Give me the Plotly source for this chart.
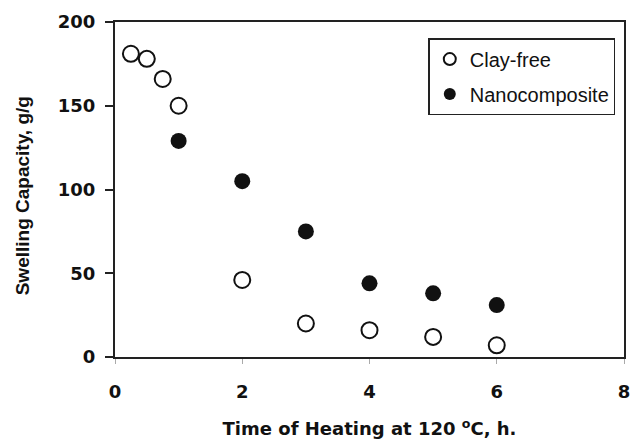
import plotly.graph_objects as go

clay_x = [0.25, 0.5, 0.75, 1, 2, 3, 4, 5, 6]
clay_y = [181, 178, 166, 150, 46, 20, 16, 12, 7]
nano_x = [1, 2, 3, 4, 5, 6]
nano_y = [129, 105, 75, 44, 38, 31]

fig = go.Figure()
fig.add_trace(go.Scatter(x=clay_x, y=clay_y, mode="markers", name="Clay-free", legendgroup="a",
                         marker=dict(symbol="circle-open", size=16, color="#111",
                                     line=dict(width=2, color="#111"))))
fig.add_trace(go.Scatter(x=nano_x, y=nano_y, mode="markers", name="Nanocomposite", legendgroup="b",
                         marker=dict(symbol="circle", size=16, color="#111")))

lib = "Liberation Sans"
dv = "DejaVu Sans"
fig.update_layout(
    width=635, height=442,
    margin=dict(l=115, r=5, t=22, b=85),
    plot_bgcolor="white", paper_bgcolor="white",
    showlegend=True,
    legend=dict(x=0.6155, y=0.952, xanchor="left", yanchor="top",
                bordercolor="#222", borderwidth=1.5, bgcolor="white",
                font=dict(family=lib, size=20, color="#111"),
                itemsizing="constant", tracegroupgap=6, itemwidth=30),
    xaxis=dict(range=[0, 8], tickvals=[0, 2, 4, 6, 8], showgrid=False, zeroline=False,
               showline=True, linecolor="#222", linewidth=2, mirror=True,
               ticks="outside", ticklen=5, tickcolor="#aaa", tickwidth=1,
               ticklabelstandoff=12,
               tickfont=dict(family=dv, size=18, color="#111", weight="bold"),
               title=dict(text="Time of Heating at 120 <sup>o</sup>C, h.", standoff=22,
                          font=dict(family=dv, size=18, color="#111", weight="bold"))),
    yaxis=dict(range=[0, 200], tickvals=[0, 50, 100, 150, 200], showgrid=False, zeroline=False,
               showline=True, linecolor="#222", linewidth=2, mirror=True,
               ticks="outside", ticklen=8, tickcolor="#222", tickwidth=1.5,
               ticklabelstandoff=6,
               tickfont=dict(family=dv, size=18, color="#111", weight="bold")),
    annotations=[dict(text="Swelling Capacity, g/g", textangle=-90, showarrow=False,
                      xref="paper", yref="paper", x=-0.1825, y=0.48,
                      xanchor="center", yanchor="middle",
                      font=dict(family=lib, size=19, color="#111", weight="bold"))],
)
fig.write_html("out.html")
